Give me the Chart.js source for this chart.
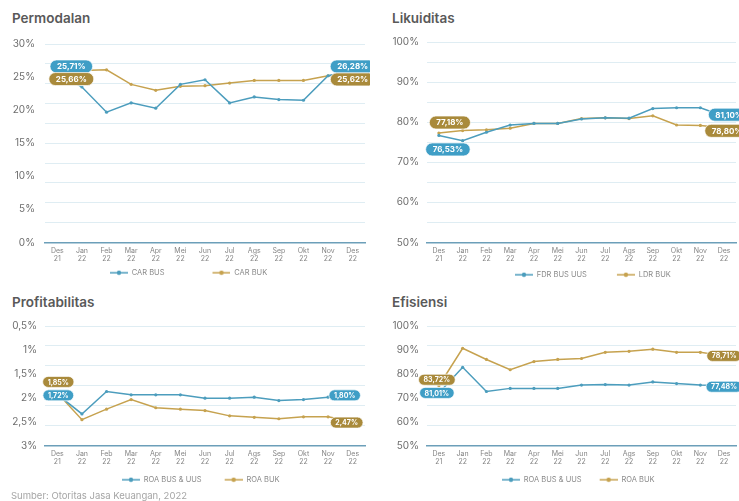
<!DOCTYPE html>
<html>
<head>
<meta charset="utf-8">
<script src="https://cdn.jsdelivr.net/npm/chart.js@4.4.0/dist/chart.umd.min.js"></script>
<style>
html, body { margin: 0; padding: 0; width: 739px; height: 501px; overflow: hidden; background: #fff; font-family: Inter, "Open Sans", sans-serif; }
.box { position: absolute; }
.title { position: absolute; font-size: 13.5px; font-weight: 600; color: #595959; }
#src { position: absolute; left: 11px; top: 490px; font-size: 9.5px; color: #a5a5a5; }
</style>
</head>
<body>
<div class="title" style="left:12px;top:10px">Permodalan</div>
<div class="title" style="left:392px;top:10px">Likuiditas</div>
<div class="title" style="left:12px;top:294px">Profitabilitas</div>
<div class="title" style="left:392px;top:294px">Efisiensi</div>

<div class="box" style="left:0;top:28px;width:370px;height:262px"><canvas id="c1"></canvas></div>
<div class="box" style="left:385px;top:28px;width:420px;height:262px"><canvas id="c2"></canvas></div>
<div class="box" style="left:0;top:312px;width:370px;height:189px"><canvas id="c3"></canvas></div>
<div class="box" style="left:385px;top:312px;width:420px;height:189px"><canvas id="c4"></canvas></div>
<div id="src">Sumber: Otoritas Jasa Keuangan, 2022</div>

<script>
var months = ['Des', 'Jan', 'Feb', 'Mar', 'Apr', 'Mei', 'Jun', 'Jul', 'Ags', 'Sep', 'Okt', 'Nov', 'Des'];
var years = ['21', '22', '22', '22', '22', '22', '22', '22', '22', '22', '22', '22', '22'];

// Permodalan
var carBus = [25.7, 23.5, 19.7, 21.1, 20.3, 23.9, 24.6, 21.1, 22.0, 21.6, 21.5, 25.2, 26.0];
var carBuk = [25.0, 26.0, 26.1, 23.9, 23.0, 23.6, 23.7, 24.1, 24.5, 24.5, 24.5, 25.2, 25.4];
var carBusTags = ['25,71%', '26,28%'];
var carBukTags = ['25,66%', '25,62%'];
var permodalanTicks = ['0%', '5%', '10%', '15%', '20%', '25%', '30%'];

// Likuiditas
var fdrBus = [76.7, 75.4, 77.5, 79.3, 79.7, 79.7, 80.8, 81.1, 81.0, 83.4, 83.6, 83.6, 81.5];
var ldrBuk = [77.3, 77.9, 78.1, 78.5, 79.7, 79.7, 80.9, 81.1, 80.9, 81.6, 79.3, 79.2, 78.6];
var fdrBusTags = ['76,53%', '81,10%'];
var ldrBukTags = ['77,18%', '78,80%'];
var likuiditasTicks = ['50%', '60%', '70%', '80%', '90%', '100%'];

// Profitabilitas (axis reversed)
var roaBus = [1.93, 2.34, 1.87, 1.94, 1.94, 1.94, 2.01, 2.01, 1.99, 2.06, 2.04, 1.99, 1.94];
var roaBuk = [1.90, 2.46, 2.24, 2.04, 2.21, 2.24, 2.27, 2.38, 2.41, 2.44, 2.40, 2.40, 2.50];
var roaBusTags = ['1,72%', '1,80%'];
var roaBukTags = ['1,85%', '2,47%'];
var profitTicks = ['0,5%', '1%', '1,5%', '2%', '2,5%', '3%'];

// Efisiensi
var bopoBus = [72.0, 82.7, 72.6, 73.9, 73.9, 73.9, 75.3, 75.5, 75.3, 76.6, 75.9, 75.3, 75.0];
var bopoBuk = [75.0, 90.7, 86.0, 81.7, 85.1, 86.0, 86.4, 89.0, 89.4, 90.3, 89.0, 89.0, 87.5];
var bopoBusTags = ['81,01%', '77,48%'];
var bopoBukTags = ['83,72%', '78,71%'];
var efisiensiTicks = ['50%', '60%', '70%', '80%', '90%', '100%'];

var BLUE = '#4c9dbd', GOLD = '#c6a24f';
var BLUE_TAG = '#3f9ec6', GOLD_TAG = '#a98a3b';

Chart.defaults.font.family = 'Inter, "Open Sans", sans-serif';
Chart.defaults.animation = false;

var xLabels = months.map(function(m, i) { return [m, years[i]]; });

function legendIcon(color, gap) {
    var c = document.createElement('canvas');
    c.width = gap + 18;
    c.height = 6;
    var g = c.getContext('2d');
    g.strokeStyle = color;
    g.lineWidth = 1.5;
    g.beginPath(); g.moveTo(gap, 3); g.lineTo(gap + 18, 3); g.stroke();
    g.fillStyle = color;
    g.beginPath(); g.arc(gap + 9, 3, 2.2, 0, Math.PI * 2); g.fill();
    return c;
}

// small rounded value tags at the ends of each line
var tagPlugin = {
    id: 'tags',
    afterDatasetsDraw: function(chart, args, opts) {
        var ctx = chart.ctx;
        (opts.items || []).forEach(function(it) {
            var pt = chart.getDatasetMeta(it.ds).data[it.idx];
            var x = pt.x + it.dx, y = pt.y + it.dy;
            ctx.save();
            ctx.font = 'bold ' + opts.size + 'px Inter, sans-serif';
            var w = ctx.measureText(it.text).width + opts.padX * 2, h = opts.h, r = h / 2;
            var l = x - w / 2, t = y - h / 2;
            ctx.beginPath();
            ctx.moveTo(l + r, t);
            ctx.lineTo(l + w - r, t);
            ctx.arc(l + w - r, t + r, r, -Math.PI / 2, Math.PI / 2);
            ctx.lineTo(l + r, t + h);
            ctx.arc(l + r, t + r, r, Math.PI / 2, Math.PI * 1.5);
            ctx.closePath();
            ctx.fillStyle = it.color;
            ctx.fill();
            ctx.lineWidth = 1;
            ctx.strokeStyle = 'rgba(255,255,255,0.7)';
            ctx.stroke();
            ctx.fillStyle = '#fff';
            ctx.textAlign = 'center';
            ctx.textBaseline = 'middle';
            ctx.fillText(it.text, x, y + 0.5);
            ctx.restore();
        });
    }
};

// moves the legend row so that its first icon starts at a given x
var legendPos = {
    id: 'legendPos',
    afterLayout: function(chart, args, opts) {
        var lg = chart.legend;
        if (!lg || opts.startX == null) return;
        var pad = lg.options.labels.padding;
        var cursorX = (lg.left + pad + lg.right - lg.lineWidths[0]) / 2;
        var shift = opts.startX - chart.canvas.parentNode.offsetLeft - opts.gap - cursorX;
        lg.left += shift;
        lg.right += shift;
    }
};

function yScale(min, max, n, labelEvery, gridEvery, tickLabels, width, pad, reverse) {
    return {
        min: min,
        max: max,
        reverse: reverse,
        afterBuildTicks: function(s) {
            var t = [];
            for (var i = 0; i <= n; i++) t.push({ value: min + (max - min) * i / n });
            s.ticks = t;
        },
        afterFit: function(s) { s.width = width; },
        border: { display: false },
        grid: {
            drawTicks: false,
            lineWidth: 1,
            color: function(c) { return c.index % gridEvery === 0 ? '#dfedf3' : 'rgba(0,0,0,0)'; }
        },
        ticks: {
            autoSkip: false,
            padding: pad,
            color: '#6e6e6e',
            font: { size: 10 },
            callback: function(v, i) { return i % labelEvery === 0 ? tickLabels[i / labelEvery] : ''; }
        }
    };
}

function xScale(h) {
    return {
        offset: true,
        grid: { display: false, drawTicks: false },
        border: { display: true, color: '#6c9fb9', width: 1.5 },
        afterFit: function(s) { s.height = h; },
        ticks: { autoSkip: false, maxRotation: 0, minRotation: 0, padding: 4, color: '#858585', font: { size: 7, lineHeight: 1.15 } }
    };
}

function lineSet(label, data, color) {
    return {
        label: label,
        data: data,
        borderColor: color,
        backgroundColor: color,
        borderWidth: 1.5,
        pointRadius: 1.6,
        pointBackgroundColor: color,
        pointBorderWidth: 0,
        tension: 0,
        fill: false
    };
}

function makeChart(id, sets, y, xh, pad, tags, tagStyle, legend) {
    var icons = [legendIcon(BLUE, legend.gap), legendIcon(GOLD, legend.gap)];
    return new Chart(document.getElementById(id), {
        type: 'line',
        data: { labels: xLabels, datasets: sets },
        plugins: [tagPlugin, legendPos],
        options: {
            responsive: true,
            maintainAspectRatio: false,
            layout: { padding: pad },
            scales: { x: xScale(xh), y: y },
            plugins: {
                tooltip: { enabled: false },
                legend: {
                    position: 'bottom',
                    labels: {
                        usePointStyle: true,
                        pointStyleWidth: legend.gap + 18,
                        padding: 6,
                        color: '#8a8a8a',
                        font: { size: 7.5 },
                        generateLabels: function(chart) {
                            var items = Chart.defaults.plugins.legend.labels.generateLabels(chart);
                            items.forEach(function(it, i) { it.pointStyle = icons[i]; });
                            return items;
                        }
                    }
                },
                legendPos: { startX: legend.startX, gap: legend.gap },
                tags: { items: tags, size: tagStyle.size, padX: tagStyle.padX, h: tagStyle.h }
            }
        }
    });
}

var last = months.length - 1;

makeChart('c1',
    [lineSet('CAR BUS', carBus, BLUE), lineSet('CAR BUK', carBuk, GOLD)],
    yScale(0, 30, 30, 5, 3, permodalanTicks, 45, 10, false),
    20.5, { top: 11, left: 0, right: 5, bottom: 3.5 },
    [
        { ds: 0, idx: 0, text: carBusTags[0], dx: 14, dy: -6, color: BLUE_TAG },
        { ds: 1, idx: 0, text: carBukTags[0], dx: 14, dy: 2, color: GOLD_TAG },
        { ds: 0, idx: last, text: carBusTags[1], dx: 0, dy: -4, color: BLUE_TAG },
        { ds: 1, idx: last, text: carBukTags[1], dx: 0, dy: 5, color: GOLD_TAG }
    ],
    { size: 8, padX: 7, h: 13 },
    { startX: 110, gap: 42 });

makeChart('c2',
    [lineSet('FDR BUS UUS', fdrBus, BLUE), lineSet('LDR BUK', ldrBuk, GOLD)],
    yScale(50, 100, 10, 2, 1, likuiditasTicks, 42, 8, false),
    22.5, { top: 11, left: 0, right: 69, bottom: 1.5 },
    [
        { ds: 0, idx: 0, text: fdrBusTags[0], dx: 9, dy: 14, color: BLUE_TAG },
        { ds: 1, idx: 0, text: ldrBukTags[0], dx: 11, dy: -10.5, color: GOLD_TAG },
        { ds: 0, idx: last, text: fdrBusTags[1], dx: 5, dy: -1.5, color: BLUE_TAG },
        { ds: 1, idx: last, text: ldrBukTags[1], dx: 3, dy: 3, color: GOLD_TAG }
    ],
    { size: 8, padX: 7, h: 13 },
    { startX: 515, gap: 24 });

makeChart('c3',
    [lineSet('ROA BUS & UUS', roaBus, BLUE), lineSet('ROA BUK', roaBuk, GOLD)],
    yScale(0.5, 3, 30, 6, 5, profitTicks, 45, 8, true),
    24.5, { top: 10, left: 0, right: 5, bottom: 7.5 },
    [
        { ds: 0, idx: 0, text: roaBusTags[0], dx: 1, dy: 1, color: BLUE_TAG },
        { ds: 1, idx: 0, text: roaBukTags[0], dx: 1, dy: -11, color: GOLD_TAG },
        { ds: 0, idx: last, text: roaBusTags[1], dx: -8, dy: 0.5, color: BLUE_TAG },
        { ds: 1, idx: last, text: roaBukTags[1], dx: -6, dy: 1, color: GOLD_TAG }
    ],
    { size: 7, padX: 5, h: 11 },
    { startX: 122, gap: 17 });

makeChart('c4',
    [lineSet('ROA BUS & UUS', bopoBus, BLUE), lineSet('ROA BUK', bopoBuk, GOLD)],
    yScale(50, 100, 30, 6, 5, efisiensiTicks, 42, 8, false),
    24.5, { top: 10, left: 0, right: 69, bottom: 7.5 },
    [
        { ds: 1, idx: 0, text: bopoBukTags[0], dx: -2, dy: -6, color: GOLD_TAG },
        { ds: 0, idx: 0, text: bopoBusTags[0], dx: -2, dy: 0, color: BLUE_TAG },
        { ds: 1, idx: last, text: bopoBukTags[1], dx: 0, dy: 0, color: GOLD_TAG },
        { ds: 0, idx: last, text: bopoBusTags[1], dx: 0, dy: 1, color: BLUE_TAG }
    ],
    { size: 7, padX: 5, h: 11 },
    { startX: 502, gap: 12 });
</script>
</body>
</html>
